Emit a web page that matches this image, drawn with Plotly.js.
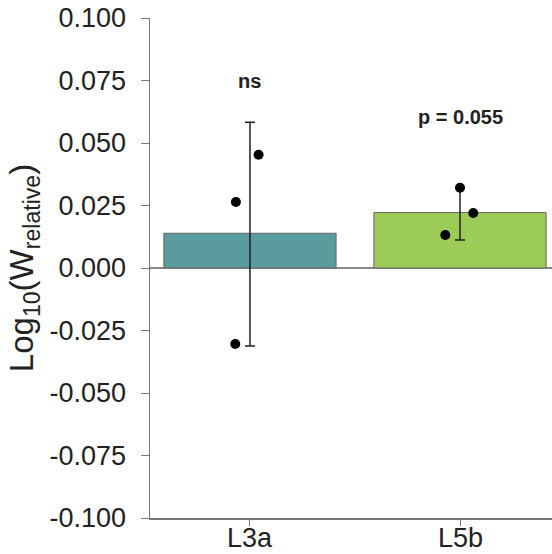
<!DOCTYPE html>
<html><head><meta charset="utf-8">
<script src="https://cdn.plot.ly/plotly-3.0.1.min.js"></script>
<style>html,body{margin:0;padding:0;background:#fff}</style>
</head><body><div id="chart" style="width:552px;height:554px"></div>
<script>
const categories = ["L3a", "L5b"];
const catPos = [0, 1];
const means = [0.0139, 0.0222];
const errUp = [0.0444, 0.0100];
const errDown = [0.0451, 0.0110];
const barColors = ["#5a9b9d", "#9dcb58"];
const pointCat = [0, 0, 0, 1, 1, 1];
const pointJitter = [-0.067, 0.041, -0.070, -0.070, 0.000, 0.063];
const pointValues = [0.0264, 0.0453, -0.0304, 0.0132, 0.0321, 0.0220];
const sigLabels = ["ns", "p = 0.055"];
const sigY = [0.0749, 0.0605];
const yTicks = [-0.1, -0.075, -0.05, -0.025, 0, 0.025, 0.05, 0.075, 0.1];
const yTickText = ["-0.100", "-0.075", "-0.050", "-0.025", "0.000", "0.025", "0.050", "0.075", "0.100"];

const font = "Liberation Sans, Arial, sans-serif";
const traces = [
  {type: "bar", x: catPos, y: means, width: 0.82,
   marker: {color: barColors, line: {color: "#666", width: 1}},
   hoverinfo: "skip"},
  {type: "scatter", mode: "markers", x: catPos, y: means,
   marker: {size: 1, color: "rgba(0,0,0,0)"},
   error_y: {type: "data", symmetric: false, array: errUp, arrayminus: errDown,
             color: "#222", thickness: 1.5, width: 5}},
  {type: "scatter", mode: "markers",
   x: pointCat.map((c, i) => catPos[c] + pointJitter[i]), y: pointValues,
   marker: {size: 10, color: "#000"}}
];
const catLabels = categories.map((t, i) => ({x: catPos[i], xref: "x", y: 0, yref: "paper",
  yanchor: "middle", yshift: -20, text: t, showarrow: false,
  font: {size: 27, family: font, color: "#222"}}));
const layout = {
  width: 552, height: 554,
  margin: {l: 150, r: 0, t: 18, b: 36},
  showlegend: false,
  paper_bgcolor: "#fff", plot_bgcolor: "#fff",
  font: {family: font, color: "#222"},
  xaxis: {range: [-0.476, 1.438], tickvals: catPos, showticklabels: false,
          showgrid: false, zeroline: false, showline: true, linecolor: "#777", linewidth: 1.5,
          ticks: "outside", ticklen: 6, tickcolor: "#777"},
  yaxis: {range: [-0.1, 0.1], tickvals: yTicks, ticktext: yTickText,
          showgrid: false, zeroline: true, zerolinecolor: "#888", zerolinewidth: 1.5,
          showline: true, linecolor: "#777", linewidth: 1.5,
          ticks: "outside", ticklen: 8, tickcolor: "#777", ticklabelstandoff: 9,
          tickfont: {size: 27, family: font, color: "#222"},
          title: {text: "Log<sub>10</sub>(W<sub>relative</sub>)", font: {size: 33, family: font, color: "#222"}, standoff: 6}},
  annotations: sigLabels.map((t, i) => ({x: catPos[i], y: sigY[i], text: "<b>" + t + "</b>",
    showarrow: false, font: {size: 20, family: font, color: "#222"}})).concat(catLabels)
};
Plotly.newPlot("chart", traces, layout, {displayModeBar: false, staticPlot: true});
</script></body></html>
